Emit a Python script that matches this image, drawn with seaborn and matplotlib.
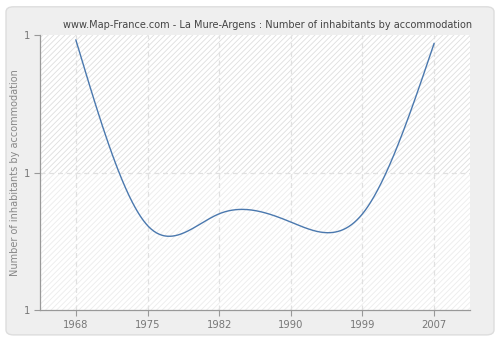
import numpy as np
import pandas as pd
import matplotlib
matplotlib.use("Agg")
import matplotlib.pyplot as plt
import seaborn as sns
from matplotlib.patches import FancyBboxPatch, Rectangle
from matplotlib.ticker import FixedLocator

years = ["1968", "1975", "1982", "1990", "1999", "2007"]
values = [1.393, 1.123, 1.140, 1.128, 1.140, 1.388]
y_ticks = [1.0, 1.2, 1.4]
y_tick_labels = ["1", "1", "1"]

title = "www.Map-France.com - La Mure-Argens : Number of inhabitants by accommodation"
ylabel = "Number of inhabitants by accommodation"


def natural_spline(x, y, xs):
    x = np.asarray(x, float); y = np.asarray(y, float)
    n = len(x)
    h = np.diff(x)
    A = np.zeros((n, n)); b = np.zeros(n)
    A[0, 0] = 1; A[-1, -1] = 1
    for i in range(1, n - 1):
        A[i, i - 1] = h[i - 1]; A[i, i] = 2 * (h[i - 1] + h[i]); A[i, i + 1] = h[i]
        b[i] = 3 * ((y[i + 1] - y[i]) / h[i] - (y[i] - y[i - 1]) / h[i - 1])
    c = np.linalg.solve(A, b)
    out = np.empty_like(xs)
    for k, t in enumerate(xs):
        i = min(max(np.searchsorted(x, t) - 1, 0), n - 2)
        dx = t - x[i]
        bi = (y[i + 1] - y[i]) / h[i] - h[i] * (2 * c[i] + c[i + 1]) / 3
        di = (c[i + 1] - c[i]) / (3 * h[i])
        out[k] = y[i] + bi * dx + c[i] * dx ** 2 + di * dx ** 3
    return out


pos = np.arange(len(years))
xs = np.linspace(0, len(years) - 1, 400)
ys = natural_spline(pos, values, xs)
df = pd.DataFrame({"x": xs, "y": ys})

sns.set_theme(style="white")
plt.rcParams["font.family"] = ["DejaVu Sans"]
plt.rcParams["hatch.linewidth"] = 0.6

fig = plt.figure(figsize=(5, 3.4), dpi=100, facecolor="white")
bg = FancyBboxPatch((0.012, 0.015), 0.976, 0.965, boxstyle="round,pad=0,rounding_size=0.015",
                    transform=fig.transFigure, facecolor="#efefef", edgecolor="#dddddd",
                    linewidth=1, zorder=-10)
fig.patches.append(bg)
ax = fig.add_axes([0.08, 0.088, 0.86, 0.809])
ax.set_facecolor("white")

ax.add_patch(Rectangle((0, 0.5), 1, 0.5, transform=ax.transAxes, facecolor="white",
                       edgecolor="#dedede", hatch="//////", linewidth=0, zorder=0))
ax.add_patch(Rectangle((0, 0), 1, 0.5, transform=ax.transAxes, facecolor="white",
                       edgecolor="#ececec", hatch="//////", linewidth=0, zorder=0))

for p in pos:
    ax.axvline(p, color="#e0e0e0", linestyle=(0, (4, 3)), linewidth=0.9, zorder=1)
ax.axhline(1.2, color="#e0e0e0", linestyle=(0, (4, 3)), linewidth=0.9, zorder=1)

sns.lineplot(data=df, x="x", y="y", ax=ax, color="#4a78ae", linewidth=1.0, zorder=3)

ax.set_xlim(-0.5, len(years) - 0.5)
ax.set_ylim(1.0, 1.4)
ax.xaxis.set_major_locator(FixedLocator(pos))
ax.set_xticklabels(years)
ax.yaxis.set_major_locator(FixedLocator(y_ticks))
ax.set_yticklabels(y_tick_labels)
ax.tick_params(axis="both", which="major", length=4, width=0.8, color="#999999",
               labelsize=7.2, labelcolor="#777777", direction="out", pad=3,
               bottom=True, left=True)
for s in ["top", "right"]:
    ax.spines[s].set_visible(False)
for s in ["left", "bottom"]:
    ax.spines[s].set_color("#999999")
    ax.spines[s].set_linewidth(0.9)
ax.set_xlabel("")
ax.set_ylabel(ylabel, fontsize=7, color="#888888")
ax.yaxis.set_label_coords(-0.047, 0.5)
fig.text(0.536, 0.925, title, ha="center", va="center", fontsize=7.0, color="#444444")

fig.savefig("out.png", dpi=100, facecolor="white")
